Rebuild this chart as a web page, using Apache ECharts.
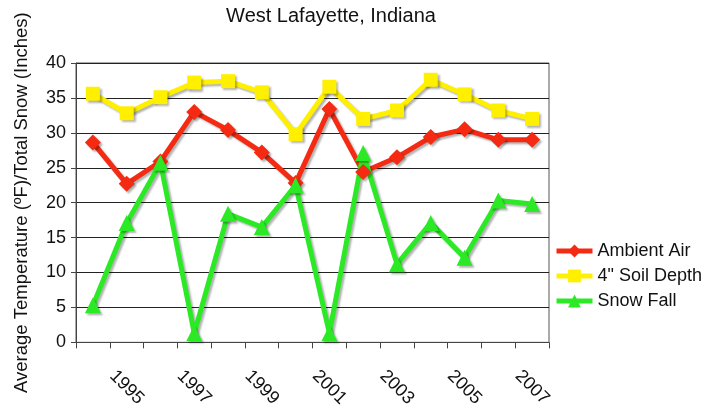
<!DOCTYPE html>
<html>
<head>
<meta charset="utf-8">
<script src="https://cdn.jsdelivr.net/npm/echarts@6/dist/echarts.min.js"></script>
<style>
  html, body { margin: 0; padding: 0; background: #fff; }
  #chart { width: 712px; height: 410px; }
</style>
</head>
<body>
<div id="chart"></div>
<script>
// data
const years = ['1994', '1995', '1996', '1997', '1998', '1999', '2000',
  '2001', '2002', '2003', '2004', '2005', '2006', '2007']
const ambientAir = [28.6, 22.7, 25.9, 33.0, 30.4, 27.2, 22.8, 33.4, 24.4, 26.5, 29.4, 30.5, 29.0, 29.0]
const soilDepth = [35.6, 32.8, 35.1, 37.2, 37.4, 35.8, 29.8, 36.6, 32.0, 33.2, 37.6, 35.5, 33.2, 32.0]
const snowFall = [5.3, 17.1, 25.7, 1.3, 18.4, 16.5, 22.5, 1.3, 27.1, 11.2, 17.1, 12.1, 20.3, 19.8]

const font = '"Liberation Sans", Arial, Helvetica, sans-serif'
const chart = echarts.init(document.getElementById('chart'))

function lineSeries(name, data, color, symbol, size) {
  return {
    name: name,
    type: 'line',
    data: data,
    symbol: symbol,
    symbolSize: size,
    lineStyle: {
      color: color,
      width: 5,
      shadowColor: 'rgba(0,0,0,0.3)',
      shadowBlur: 2,
      shadowOffsetX: 2,
      shadowOffsetY: 2
    },
    itemStyle: {
      color: color,
      shadowColor: 'rgba(0,0,0,0.3)',
      shadowBlur: 2,
      shadowOffsetX: 2,
      shadowOffsetY: 2
    },
    emphasis: { disabled: true }
  }
}

chart.setOption({
  animation: false,
  textStyle: { fontFamily: font },
  title: {
    text: 'West Lafayette, Indiana',
    left: 326,
    textAlign: 'center',
    top: 1,
    textStyle: { fontFamily: font, fontSize: 20, fontWeight: 'normal', color: '#111' }
  },
  legend: {
    orient: 'vertical',
    left: 549,
    top: 237,
    itemWidth: 36,
    itemHeight: 16,
    itemGap: 7,
    lineStyle: { width: 5 },
    textStyle: { fontFamily: font, fontSize: 18, color: '#111' },
    data: ['Ambient Air', '4" Soil Depth', 'Snow Fall']
  },
  grid: {
    left: 76,
    top: 63,
    right: 163,
    bottom: 64,
    show: true,
    borderColor: '#555',
    borderWidth: 1
  },
  xAxis: {
    type: 'category',
    data: years,
    boundaryGap: true,
    axisLine: { lineStyle: { color: '#444', width: 1 } },
    axisTick: { show: true, interval: 0, length: 6, lineStyle: { color: '#444' } },
    axisLabel: {
      interval: (idx) => idx % 2 === 1,
      rotate: -45,
      align: 'center',
      verticalAlign: 'middle',
      margin: 45,
      fontFamily: font,
      fontSize: 18,
      color: '#111'
    }
  },
  yAxis: {
    type: 'value',
    min: 0,
    max: 40,
    interval: 5,
    name: 'Average Temperature (ºF)/Total Snow (Inches)',
    nameLocation: 'middle',
    nameGap: 45,
    nameTextStyle: { fontFamily: font, fontSize: 18.5, color: '#111' },
    axisLine: { show: true, lineStyle: { color: '#444' } },
    axisTick: { show: true, length: 5, lineStyle: { color: '#444' } },
    axisLabel: { fontFamily: font, fontSize: 18, color: '#111', margin: 10 },
    splitLine: { lineStyle: { color: '#222', width: 1 } }
  },
  series: [
    lineSeries('Ambient Air', ambientAir, '#f42a12', 'diamond', 16),
    lineSeries('4" Soil Depth', soilDepth, '#fff000', 'rect', 14),
    lineSeries('Snow Fall', snowFall, '#2bea25', 'triangle', 16)
  ]
})
</script>
</body>
</html>
